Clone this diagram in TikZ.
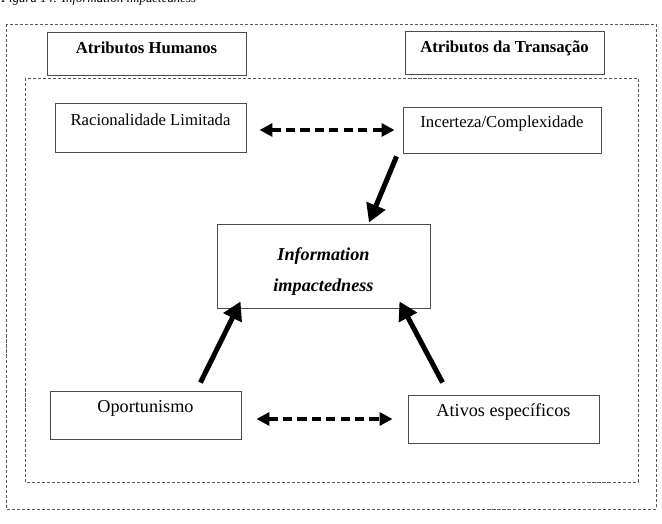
\documentclass[tikz,border=0pt]{standalone}
\usepackage{fontspec}
\setmainfont{Liberation Serif}
\usetikzlibrary{positioning,arrows.meta,calc}

\newcommand{\pxu}{0.659pt}

\tikzset{
  box/.style={draw=black!70,line width=0.6pt,rectangle,inner sep=0pt,align=center},
  head/.style={box,font=\bfseries\fontsize{11}{13}\selectfont,text height=7.5pt,text depth=8pt},
  item/.style={box,text height=7.5pt,text depth=10.5pt},
  frame/.style={draw=black!65,line width=0.5pt,dash pattern=on 2pt off 1.3pt},
  thickarrow/.style={line width=3.3pt,-{Triangle[length=12pt,width=13pt]}},
  dasharrow/.style={line width=2.6pt,dash pattern=on 6pt off 3.5pt,
    {Triangle[length=8.5pt,width=8.5pt]}-{Triangle[length=8.5pt,width=8.5pt]}},
}

\begin{document}
\begin{tikzpicture}[x=\pxu,y=-\pxu]
\useasboundingbox (0,0) rectangle (662,524);

\node[anchor=base west,inner sep=0pt,font=\itshape\fontsize{8.5}{10}\selectfont] (cap) at (1,3)
  {Figura 14: Information impactedness};

% outer and inner frames
\draw[frame] (6,24) rectangle (656,509);
\draw[frame] (25,78) rectangle (638,482);

\node[head,minimum width=199*\pxu,minimum height=43*\pxu] (hum) at (146.5,53.5) {Atributos Humanos};
\node[head,minimum width=199*\pxu,minimum height=43*\pxu] (tra) at (504.5,52.5) {Atributos da Transação};

\node[item,font=\fontsize{11}{13}\selectfont,minimum width=191*\pxu,minimum height=49*\pxu] (rac) at (150.5,127.5) {Racionalidade Limitada};
\node[item,font=\fontsize{11}{13}\selectfont,minimum width=198*\pxu,minimum height=46*\pxu] (inc) at (502,130) {Incerteza/Complexidade};

\node[box,font=\bfseries\itshape\fontsize{12}{20.4}\selectfont,minimum width=213*\pxu,minimum height=84*\pxu,
  text height=36pt,text depth=3pt] (info) at (323.5,266) {Information\\impactedness};

\node[item,font=\fontsize{12}{14}\selectfont,minimum width=191*\pxu,minimum height=48*\pxu] (opo) at (145.5,415) {Oportunismo};
\node[item,font=\fontsize{12}{14}\selectfont,minimum width=191*\pxu,minimum height=48*\pxu] (ati) at (503.5,419) {Ativos específicos};

% connectors
\draw[dasharrow,shorten <=8.6pt,shorten >=5.3pt] (rac.east |- inc.west) -- (inc.west);
\draw[dasharrow,shorten <=9.9pt,shorten >=9.9pt] (opo.east |- ati.west) -- (ati.west);
\draw[thickarrow] ($(inc.south west)+(-6,3)$) -- ($(info.north)+(45.5,-1)$);
\draw[thickarrow] ($(opo.north east)+(-41,-8)$) -- ($(info.south west)+(24,-7)$);
\draw[thickarrow] ($(ati.north west)+(35,-12)$) -- ($(info.south east)+(-31,-7)$);
\end{tikzpicture}
\end{document}
